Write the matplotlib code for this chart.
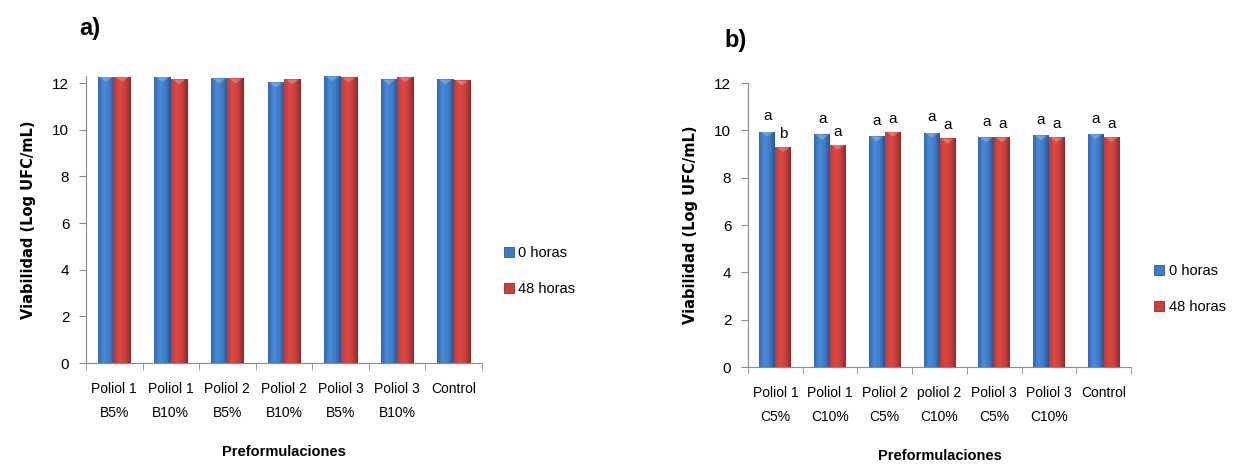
import numpy as np
import matplotlib
matplotlib.use("Agg")
import matplotlib.pyplot as plt
from matplotlib.patches import Patch
from matplotlib.colors import LinearSegmentedColormap

# datos
categorias_a = ["Poliol 1\nB5%", "Poliol 1\nB10%", "Poliol 2\nB5%", "Poliol 2\nB10%",
                "Poliol 3\nB5%", "Poliol 3\nB10%", "Control"]
horas0_a = [12.27, 12.27, 12.21, 12.04, 12.30, 12.16, 12.16]
horas48_a = [12.27, 12.17, 12.21, 12.17, 12.25, 12.26, 12.12]

categorias_b = ["Poliol 1\nC5%", "Poliol 1\nC10%", "Poliol 2\nC5%", "poliol 2\nC10%",
                "Poliol 3\nC5%", "Poliol 3\nC10%", "Control"]
horas0_b = [9.95, 9.83, 9.75, 9.90, 9.72, 9.80, 9.85]
horas48_b = [9.30, 9.40, 9.95, 9.66, 9.72, 9.72, 9.72]
letras0_b = ["a", "a", "a", "a", "a", "a", "a"]
letras48_b = ["b", "a", "a", "a", "a", "a", "a"]

series = ["0 horas", "48 horas"]

fuente = ["Liberation Sans Narrow", "Liberation Sans", "DejaVu Sans"]

cmap_azul = LinearSegmentedColormap.from_list("azul", ["#3668ad", "#4a8ad6", "#3f7cc8", "#2a5590"])
cmap_rojo = LinearSegmentedColormap.from_list("rojo", ["#c23a38", "#da4a47", "#c9403d", "#93292a"])


def sombrear(ax, barras, cmap):
    grad = np.linspace(0, 1, 64).reshape(1, -1)
    for b in barras:
        x0, w, h = b.get_x(), b.get_width(), b.get_height()
        im = ax.imshow(grad, cmap=cmap, aspect="auto", extent=[x0, x0 + w, 0, h],
                       zorder=3, interpolation="bilinear")
        im.set_clip_path(b)
        # pequeño bisel claro arriba
        ax.fill([x0 + w * 0.1, x0 + w * 0.9, x0 + w * 0.5],
                [h - 0.02, h - 0.02, h - 0.22], color="white", alpha=0.25, zorder=4, lw=0)


def panel(ax, cats, v0, v48, ymax):
    x = np.arange(len(cats))
    w = 0.29
    b0 = ax.bar(x - w / 2, v0, w, color="#3f7cc8", zorder=2, edgecolor="none")
    b1 = ax.bar(x + w / 2, v48, w, color="#c9403d", zorder=2, edgecolor="none")
    sombrear(ax, b0, cmap_azul)
    sombrear(ax, b1, cmap_rojo)
    ax.set_xlim(-0.5, len(cats) - 0.5)
    ax.set_ylim(0, ymax)
    ax.set_yticks(range(0, 13, 2))
    ax.set_xticks(x)
    ax.set_xticklabels(cats, family=fuente, fontsize=10, linespacing=1.9)
    ax.set_xticks(np.arange(len(cats) + 1) - 0.5, minor=True)
    ax.tick_params(axis="x", which="major", length=0, pad=14)
    ax.tick_params(axis="x", which="minor", length=5, color="#8a8a8a", direction="out")
    ax.tick_params(axis="y", length=5, color="#8a8a8a", pad=7, labelsize=11)
    for t in ax.get_yticklabels():
        t.set_family(fuente)
    for s in ["top", "right"]:
        ax.spines[s].set_visible(False)
    for s in ["left", "bottom"]:
        ax.spines[s].set_color("#8a8a8a")
    ax.set_ylabel("Viabilidad (Log UFC/mL)", fontsize=10.5, fontweight="bold", labelpad=12)
    ax.legend(handles=[Patch(facecolor="#3f7cc8", edgecolor="#2a5590", lw=0.6),
                       Patch(facecolor="#c9403d", edgecolor="#93292a", lw=0.6)],
              labels=series, loc="center left", frameon=False,
              prop={"family": fuente, "size": 10.5}, handlelength=0.7, handleheight=0.7,
              handletextpad=0.3, labelspacing=1.5, borderpad=0, borderaxespad=0)
    return x, w


fig = plt.figure(figsize=(12.33, 4.65), dpi=100)

ax_a = fig.add_axes([86 / 1233, 1 - 363 / 465, 396 / 1233, 287 / 465])
panel(ax_a, categorias_a, horas0_a, horas48_a, 12.3)
ax_a.get_legend().set_bbox_to_anchor((1.055, 0.32))

ax_b = fig.add_axes([748 / 1233, 1 - 367 / 465, 383 / 1233, 284 / 465])
x, w = panel(ax_b, categorias_b, horas0_b, horas48_b, 12)
ax_b.get_legend().set_bbox_to_anchor((1.06, 0.275))
for i in range(len(x)):
    ax_b.text(x[i] - w / 2, horas0_b[i] + 0.35, letras0_b[i], ha="center", va="bottom",
              family=fuente, fontsize=11, zorder=5)
    ax_b.text(x[i] + w / 2, horas48_b[i] + 0.25, letras48_b[i], ha="center", va="bottom",
              family=fuente, fontsize=11, zorder=5)

fig.text(284 / 1233, 1 - 452 / 465, "Preformulaciones", ha="center", va="center",
         family=fuente, fontsize=10.5, fontweight="bold")
fig.text(940 / 1233, 1 - 456 / 465, "Preformulaciones", ha="center", va="center",
         family=fuente, fontsize=10.5, fontweight="bold")

fig.text(90 / 1233, 1 - 28 / 465, "a)", ha="center", va="center", fontsize=17,
         fontweight="bold", family="Liberation Sans")
fig.text(736 / 1233, 1 - 40 / 465, "b)", ha="center", va="center", fontsize=17,
         fontweight="bold", family="Liberation Sans")

fig.savefig("out.png", dpi=100)
